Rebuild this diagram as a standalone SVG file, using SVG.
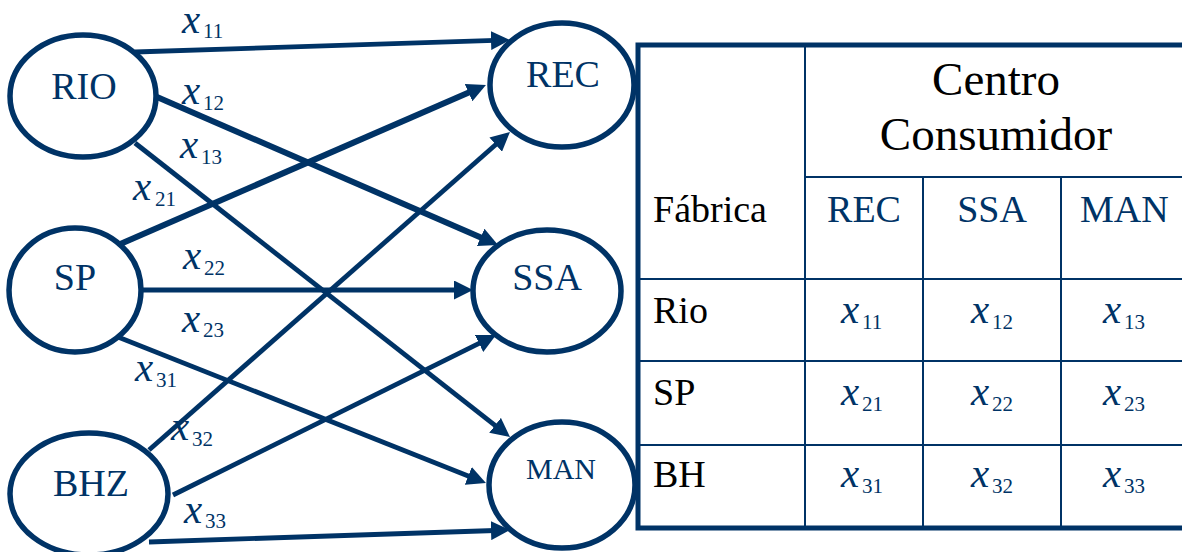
<svg xmlns="http://www.w3.org/2000/svg" width="1182" height="552" viewBox="0 0 1182 552">
  <defs>
    <style>
      text { font-family: "Liberation Serif", "DejaVu Serif", serif; }
      .node ellipse { fill: #ffffff; stroke: #003366; stroke-width: 5.5; }
      .lbl { font-size: 38px; fill: #003366; text-anchor: middle; }
      .edge { stroke: #003366; stroke-width: 4.8; fill: none; marker-end: url(#head); }
      .edge.bold { stroke-width: 6; }
      .v { font-style: italic; font-size: 41px; fill: #003366; }
      .s { font-size: 21px; fill: #003366; }
      .grid { stroke: #003366; stroke-width: 2; fill: none; }
      .frame { stroke: #003366; stroke-width: 5; fill: none; }
      .hd { font-size: 38px; fill: #000000; }
      .big { font-size: 47px; fill: #000000; text-anchor: middle; }
      .col { font-size: 38px; fill: #003366; }
    </style>
    <marker id="head" markerUnits="userSpaceOnUse" markerWidth="19" markerHeight="19" refX="4" refY="9.5" orient="auto">
      <path d="M0,0 L19,9.5 L0,19 Z" fill="#003366"/>
    </marker>
  </defs>

  <rect width="1182" height="552" fill="#ffffff"/>

  <!-- flow arcs from factories to consumer centres -->
  <g id="connectors">
    <line class="edge" x1="135" y1="52" x2="495" y2="40.4"/>
    <line class="edge bold" x1="157" y1="97" x2="484.3" y2="239"/>
    <line class="edge" x1="135" y1="143" x2="498.2" y2="427.8"/>
    <line class="edge bold" x1="118" y1="245" x2="472.2" y2="91"/>
    <line class="edge" x1="141" y1="290" x2="458" y2="290"/>
    <line class="edge" x1="118" y1="337" x2="472" y2="477.4"/>
    <line class="edge" x1="149" y1="450" x2="498.7" y2="142"/>
    <line class="edge" x1="173" y1="495" x2="482.6" y2="341.7"/>
    <line class="edge" x1="149" y1="542" x2="495" y2="530.5"/>
  </g>

  <!-- arc variable labels -->
  <g id="arc-labels">
    <text><tspan class="v" x="182" y="33">x</tspan><tspan class="s" x="203" y="38">11</tspan></text>
    <text><tspan class="v" x="182" y="104">x</tspan><tspan class="s" x="203" y="110">12</tspan></text>
    <text><tspan class="v" x="180" y="158">x</tspan><tspan class="s" x="201" y="164">13</tspan></text>
    <text><tspan class="v" x="133" y="200">x</tspan><tspan class="s" x="155" y="206">21</tspan></text>
    <text><tspan class="v" x="183" y="269">x</tspan><tspan class="s" x="204" y="275">22</tspan></text>
    <text><tspan class="v" x="182" y="332">x</tspan><tspan class="s" x="203" y="337">23</tspan></text>
    <text><tspan class="v" x="135" y="381">x</tspan><tspan class="s" x="156" y="387">31</tspan></text>
    <text><tspan class="v" x="171" y="440">x</tspan><tspan class="s" x="192" y="446">32</tspan></text>
    <text><tspan class="v" x="184" y="523">x</tspan><tspan class="s" x="205" y="528">33</tspan></text>
  </g>

  <!-- factories -->
  <g id="node-rio" class="node">
    <ellipse cx="83" cy="96" rx="73" ry="61"/>
    <text class="lbl" x="84" y="99">RIO</text>
  </g>
  <g id="node-sp" class="node">
    <ellipse cx="75" cy="290" rx="66" ry="62"/>
    <text class="lbl" x="75" y="290">SP</text>
  </g>
  <g id="node-bhz" class="node">
    <ellipse cx="89" cy="494" rx="79" ry="61"/>
    <text class="lbl" x="91" y="496">BHZ</text>
  </g>

  <!-- consumer centres -->
  <g id="node-rec" class="node">
    <ellipse cx="562" cy="85" rx="72" ry="62"/>
    <text class="lbl" x="563" y="87">REC</text>
  </g>
  <g id="node-ssa" class="node">
    <ellipse cx="547" cy="291" rx="74" ry="61"/>
    <text class="lbl" x="547" y="290">SSA</text>
  </g>
  <g id="node-man" class="node">
    <ellipse cx="562" cy="485" rx="73" ry="63"/>
    <text class="lbl" x="561" y="479" style="font-size:30px">MAN</text>
  </g>

  <!-- transport table -->
  <g id="table">
    <path class="grid" d="M805 45 V528 M923 177 V528 M1061 177 V528 M805 177 H1182 M638 279 H1182 M638 361 H1182 M638 445 H1182"/>
    <path class="frame" d="M1182 45 H638 V528 H1182"/>
    <text class="big" x="996" y="95">Centro</text>
    <text class="big" x="996" y="150">Consumidor</text>
    <text class="hd" x="653" y="222">Fábrica</text>
    <text class="col" x="864" y="222" text-anchor="middle">REC</text>
    <text class="col" x="992" y="222" text-anchor="middle">SSA</text>
    <text class="col" x="1080" y="222">MAN</text>
    <text class="hd" x="653" y="323">Rio</text>
    <text class="hd" x="653" y="405">SP</text>
    <text class="hd" x="653" y="487">BH</text>

    <text><tspan class="v" x="841" y="323">x</tspan><tspan class="s" x="862" y="329">11</tspan></text>
    <text><tspan class="v" x="971" y="323">x</tspan><tspan class="s" x="992" y="329">12</tspan></text>
    <text><tspan class="v" x="1103" y="323">x</tspan><tspan class="s" x="1124" y="329">13</tspan></text>
    <text><tspan class="v" x="841" y="405">x</tspan><tspan class="s" x="862" y="411">21</tspan></text>
    <text><tspan class="v" x="971" y="405">x</tspan><tspan class="s" x="992" y="411">22</tspan></text>
    <text><tspan class="v" x="1103" y="405">x</tspan><tspan class="s" x="1124" y="411">23</tspan></text>
    <text><tspan class="v" x="841" y="487">x</tspan><tspan class="s" x="862" y="493">31</tspan></text>
    <text><tspan class="v" x="971" y="487">x</tspan><tspan class="s" x="992" y="493">32</tspan></text>
    <text><tspan class="v" x="1103" y="487">x</tspan><tspan class="s" x="1124" y="493">33</tspan></text>
  </g>
</svg>
